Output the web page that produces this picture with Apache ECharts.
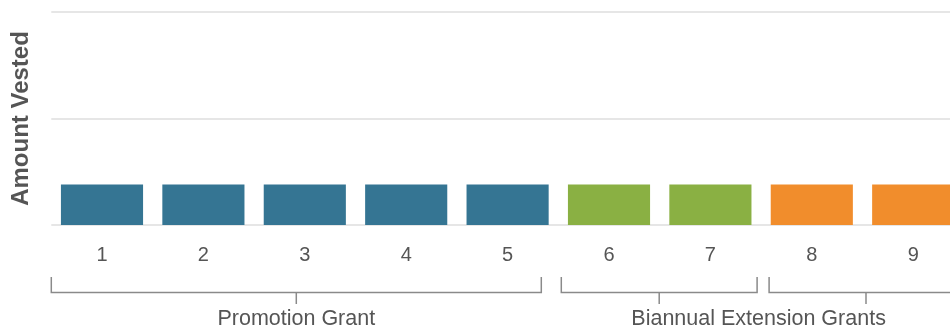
<!DOCTYPE html>
<html>
<head>
<meta charset="utf-8">
<script src="https://cdn.jsdelivr.net/npm/echarts@6/dist/echarts.min.js"></script>
<style>
  html, body { margin: 0; padding: 0; background: #fff; overflow: hidden; }
  #chart { width: 964px; height: 332px; }
</style>
</head>
<body>
<div id="chart"></div>
<script>
// Vesting tranches
var categories = ['1', '2', '3', '4', '5', '6', '7', '8', '9'];
var amounts = [0.38, 0.38, 0.38, 0.38, 0.38, 0.38, 0.38, 0.38, 0.38];
var trancheGroup = [0, 0, 0, 0, 0, 1, 1, 2, 2];

// Brackets: first and last category index of each
var bracketFirst = [0, 5, 7];
var bracketLast = [4, 6, 8];

// Captions and the brackets each one sits under
var captionNames = ['Promotion Grant', 'Biannual Extension Grants'];
var captionBrackets = [[0], [1, 2]];

// Styling
var groupColors = ['#357593', '#8AB043', '#F18D2C'];
var bracketInset = [[0, 17], [3, 4], [8, 1]];
var captionShift = [0, -4];
var textColor = '#555555';
var font = 'Liberation Sans, Arial, sans-serif';

var chart = echarts.init(document.getElementById('chart'), null, { renderer: 'canvas' });

var option = {
  animation: false,
  grid: { left: 51.3, top: 12, right: 0.1, bottom: 107, containLabel: false },
  xAxis: {
    type: 'category',
    data: categories,
    axisLine: { show: false },
    axisTick: { show: false },
    axisLabel: { color: textColor, fontSize: 20, fontFamily: font, margin: 20 }
  },
  yAxis: {
    type: 'value',
    min: 0,
    max: 2,
    interval: 1,
    name: 'Amount Vested',
    nameLocation: 'middle',
    nameGap: 18,
    nameTextStyle: { color: textColor, fontSize: 24, fontWeight: 'bold', fontFamily: font },
    axisLine: { show: false },
    axisTick: { show: false },
    axisLabel: { show: false },
    splitLine: { lineStyle: { color: '#e6e6e6', width: 2 } }
  },
  series: [{
    type: 'bar',
    barCategoryGap: '19%',
    data: amounts.map(function (v, i) {
      return { value: v, itemStyle: { color: groupColors[trancheGroup[i]] } };
    })
  }]
};
chart.setOption(option);

// Group brackets and captions under the category labels, placed from the axis scale
function drawBrackets() {
  var px = function (i) { return chart.convertToPixel({ xAxisIndex: 0 }, i); };
  var band = px(1) - px(0);
  var lineY = 292.5, endTop = 277, tickBottom = 304, labelY = 319;
  var stroke = { stroke: '#8a8a8a', lineWidth: 1.5 };
  var elements = [];
  var mids = [];
  for (var g = 0; g < bracketFirst.length; g++) {
    var x1 = px(bracketFirst[g]) - band / 2 + bracketInset[g][0];
    var x2 = px(bracketLast[g]) + band / 2 - bracketInset[g][1];
    var mid = (x1 + x2) / 2;
    mids.push(mid);
    elements.push({
      type: 'polyline', silent: true,
      shape: { points: [[x1, endTop], [x1, lineY], [x2, lineY], [x2, endTop]] },
      style: Object.assign({ fill: null }, stroke)
    });
    elements.push({
      type: 'line', silent: true,
      shape: { x1: mid, y1: lineY, x2: mid, y2: tickBottom },
      style: stroke
    });
  }
  for (var c = 0; c < captionNames.length; c++) {
    var list = captionBrackets[c];
    var cx = (mids[list[0]] + mids[list[list.length - 1]]) / 2 + captionShift[c];
    elements.push({
      type: 'text', silent: true, x: cx, y: labelY,
      style: {
        text: captionNames[c], fill: textColor, fontSize: 21.5, fontFamily: font,
        align: 'center', verticalAlign: 'middle'
      }
    });
  }
  chart.setOption({ graphic: elements });
}
drawBrackets();
</script>
</body>
</html>
